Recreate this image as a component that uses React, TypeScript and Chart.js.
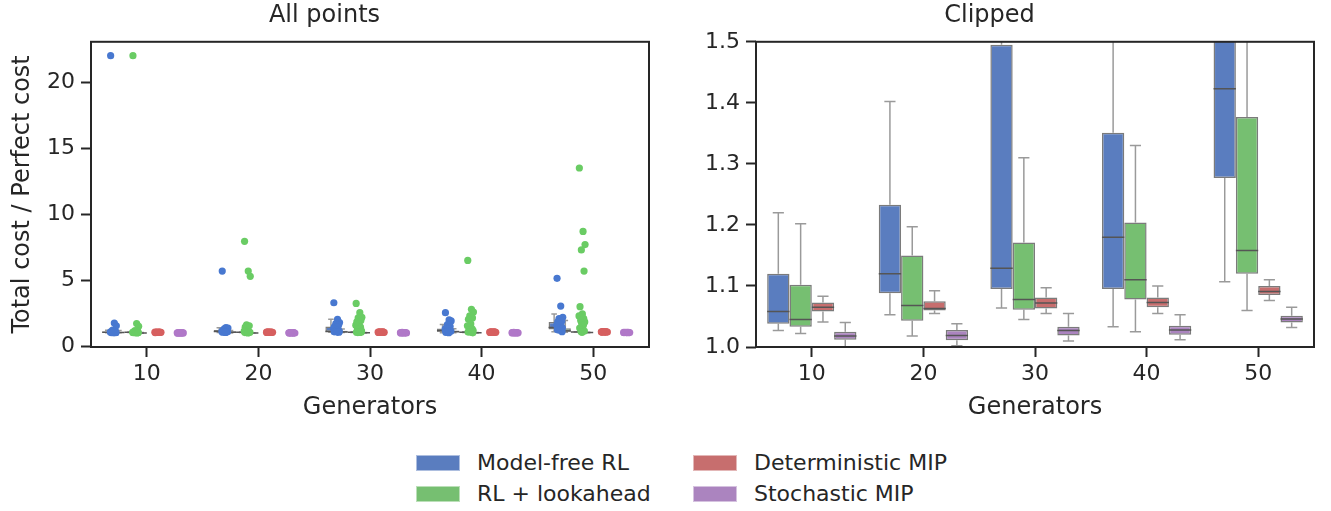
import React, { useEffect, useRef } from 'react';
import { Chart, registerables } from 'chart.js';

Chart.register(...registerables);

// ---------------- DATA ----------------
const CATEGORIES = ['10', '20', '30', '40', '50'];
const SERIES = ['Model-free RL', 'RL + lookahead', 'Deterministic MIP', 'Stochastic MIP'];

// Box statistics per category (whisker low, Q1, median, Q3, whisker high)
const MODEL_FREE_LOW = [1.027, 1.053, 1.064, 1.033, 1.107];
const MODEL_FREE_Q1 = [1.038, 1.088, 1.095, 1.095, 1.277];
const MODEL_FREE_MED = [1.058, 1.12, 1.129, 1.18, 1.423];
const MODEL_FREE_Q3 = [1.12, 1.233, 1.495, 1.351, 1.85];
const MODEL_FREE_HIGH = [1.22, 1.402, 2.05, 1.65, 2.45];

const LOOKAHEAD_LOW = [1.022, 1.018, 1.045, 1.025, 1.06];
const LOOKAHEAD_Q1 = [1.033, 1.043, 1.061, 1.078, 1.12];
const LOOKAHEAD_MED = [1.045, 1.068, 1.078, 1.11, 1.158];
const LOOKAHEAD_Q3 = [1.102, 1.15, 1.171, 1.204, 1.377];
const LOOKAHEAD_HIGH = [1.202, 1.197, 1.31, 1.33, 1.95];

const DET_MIP_LOW = [1.041, 1.055, 1.055, 1.055, 1.076];
const DET_MIP_Q1 = [1.058, 1.06, 1.063, 1.065, 1.085];
const DET_MIP_MED = [1.065, 1.063, 1.072, 1.073, 1.091];
const DET_MIP_Q3 = [1.073, 1.075, 1.081, 1.081, 1.1];
const DET_MIP_HIGH = [1.083, 1.092, 1.097, 1.1, 1.11];

const STOCH_MIP_LOW = [1.0, 1.002, 1.01, 1.012, 1.032];
const STOCH_MIP_Q1 = [1.012, 1.011, 1.019, 1.02, 1.04];
const STOCH_MIP_MED = [1.018, 1.019, 1.027, 1.028, 1.046];
const STOCH_MIP_Q3 = [1.025, 1.028, 1.033, 1.035, 1.051];
const STOCH_MIP_HIGH = [1.04, 1.038, 1.055, 1.053, 1.065];

// Individual observations (per category) shown in the "All points" panel
const MODEL_FREE_POINTS = [
  [22.0, 1.76, 1.55, 1.22, 1.16, 1.12, 1.1, 1.08, 1.07, 1.06, 1.05, 1.05, 1.04, 1.04, 1.03, 1.03, 1.035, 1.045],
  [5.7, 1.42, 1.38, 1.33, 1.23, 1.2, 1.15, 1.13, 1.12, 1.11, 1.1, 1.09, 1.09, 1.07, 1.05],
  [3.3, 2.05, 1.8, 1.72, 1.6, 1.5, 1.45, 1.35, 1.25, 1.15, 1.13, 1.12, 1.1, 1.095, 1.08, 1.065],
  [2.55, 2.0, 1.92, 1.65, 1.5, 1.4, 1.35, 1.28, 1.2, 1.18, 1.15, 1.1, 1.095, 1.06, 1.033],
  [5.15, 3.05, 2.2, 2.1, 1.9, 1.85, 1.7, 1.6, 1.5, 1.42, 1.38, 1.3, 1.28, 1.25, 1.2, 1.11],
];
const LOOKAHEAD_POINTS = [
  [22.0, 1.72, 1.52, 1.2, 1.15, 1.1, 1.08, 1.06, 1.05, 1.045, 1.04, 1.035, 1.033, 1.03, 1.025, 1.022],
  [7.95, 5.7, 5.3, 1.62, 1.55, 1.45, 1.197, 1.15, 1.1, 1.07, 1.068, 1.06, 1.045, 1.043, 1.018],
  [3.25, 2.55, 2.2, 2.15, 1.95, 1.85, 1.7, 1.6, 1.45, 1.31, 1.17, 1.1, 1.08, 1.075, 1.065, 1.061, 1.045],
  [6.5, 2.8, 2.6, 2.3, 2.15, 2.05, 1.7, 1.55, 1.33, 1.25, 1.2, 1.11, 1.1, 1.08, 1.078, 1.025],
  [13.5, 8.7, 7.7, 7.3, 5.7, 3.0, 2.45, 2.3, 2.1, 1.95, 1.85, 1.75, 1.6, 1.38, 1.25, 1.16, 1.12, 1.06],
];
const DET_MIP_POINTS = [
  [1.041, 1.05, 1.058, 1.06, 1.064, 1.066, 1.07, 1.073, 1.078, 1.083],
  [1.055, 1.058, 1.06, 1.062, 1.063, 1.066, 1.07, 1.075, 1.085, 1.092],
  [1.055, 1.06, 1.063, 1.068, 1.072, 1.075, 1.08, 1.082, 1.09, 1.097],
  [1.055, 1.06, 1.065, 1.07, 1.073, 1.076, 1.08, 1.083, 1.092, 1.1],
  [1.076, 1.08, 1.085, 1.088, 1.091, 1.094, 1.098, 1.1, 1.105, 1.11],
];
const STOCH_MIP_POINTS = [
  [1.0, 1.008, 1.012, 1.015, 1.018, 1.02, 1.023, 1.025, 1.032, 1.04],
  [1.002, 1.008, 1.011, 1.015, 1.019, 1.022, 1.025, 1.028, 1.033, 1.038],
  [1.01, 1.015, 1.019, 1.023, 1.027, 1.029, 1.031, 1.033, 1.045, 1.055],
  [1.012, 1.016, 1.02, 1.024, 1.028, 1.03, 1.032, 1.035, 1.045, 1.053],
  [1.032, 1.036, 1.04, 1.043, 1.046, 1.048, 1.05, 1.051, 1.058, 1.065],
];

const LEFT_Y_TICKS = [0, 5, 10, 15, 20];
const RIGHT_Y_TICKS = [1.0, 1.1, 1.2, 1.3, 1.4, 1.5];

// ---------------- STYLE ----------------
const FONT = "'DejaVu Sans', sans-serif";
const TEXT = '#262626';
const BOX_COLORS = ['#5a7dbf', '#76bf71', '#c76e6e', '#ab84bf'];
const POINT_COLORS = ['#4878d0', '#6acc64', '#d65f5f', '#b078c8'];
const BOX_EDGE = '#7b7b7b';
const WHISKER = '#9a9a9a';
const MEDIAN = '#555555';
// fixed strip-plot jitter pattern (fraction of max jitter)
const JITTER = [-0.8, 0.3, 0.9, -0.2, 0.6, -0.6, 0.1, -0.9, 0.5, -0.4, 0.8, -0.1, 0.4, -0.7, 0.2, 0.7, -0.3, 0.0, -0.5, 0.95];
const JITTER_WIDTH = 0.03;

const STATS = [
  { low: MODEL_FREE_LOW, q1: MODEL_FREE_Q1, med: MODEL_FREE_MED, q3: MODEL_FREE_Q3, high: MODEL_FREE_HIGH },
  { low: LOOKAHEAD_LOW, q1: LOOKAHEAD_Q1, med: LOOKAHEAD_MED, q3: LOOKAHEAD_Q3, high: LOOKAHEAD_HIGH },
  { low: DET_MIP_LOW, q1: DET_MIP_Q1, med: DET_MIP_MED, q3: DET_MIP_Q3, high: DET_MIP_HIGH },
  { low: STOCH_MIP_LOW, q1: STOCH_MIP_Q1, med: STOCH_MIP_MED, q3: STOCH_MIP_Q3, high: STOCH_MIP_HIGH },
];
const POINTS = [MODEL_FREE_POINTS, LOOKAHEAD_POINTS, DET_MIP_POINTS, STOCH_MIP_POINTS];

const CANVAS_W = 665;
const CANVAS_H = 430;

const clipArea = (chart: any) => {
  const a = chart.chartArea;
  chart.ctx.beginPath();
  chart.ctx.rect(a.left, a.top, a.right - a.left, a.bottom - a.top);
  chart.ctx.clip();
};

const boxPlugin = {
  id: 'boxWhiskers',
  beforeDatasetDraw(chart: any, args: any) {
    const ds = chart.data.datasets[args.index];
    if (!ds.boxStats) return;
    const y = chart.scales.y;
    const ctx = chart.ctx;
    ctx.save();
    clipArea(chart);
    ctx.strokeStyle = WHISKER;
    ctx.lineWidth = 1.5;
    args.meta.data.forEach((el: any, i: number) => {
      const { x, width } = el.getProps(['x', 'width'], true);
      const s = ds.boxStats;
      const yHigh = y.getPixelForValue(s.high[i]);
      const yQ3 = y.getPixelForValue(s.q3[i]);
      const yQ1 = y.getPixelForValue(s.q1[i]);
      const yLow = y.getPixelForValue(s.low[i]);
      const cap = width / 4;
      ctx.beginPath();
      ctx.moveTo(x, yQ3);
      ctx.lineTo(x, yHigh);
      ctx.moveTo(x, yQ1);
      ctx.lineTo(x, yLow);
      ctx.moveTo(x - cap, yHigh);
      ctx.lineTo(x + cap, yHigh);
      ctx.moveTo(x - cap, yLow);
      ctx.lineTo(x + cap, yLow);
      ctx.stroke();
    });
    ctx.restore();
  },
  afterDatasetDraw(chart: any, args: any) {
    const ds = chart.data.datasets[args.index];
    if (!ds.boxStats) return;
    const y = chart.scales.y;
    const ctx = chart.ctx;
    ctx.save();
    clipArea(chart);
    ctx.strokeStyle = MEDIAN;
    ctx.lineWidth = 1.5;
    args.meta.data.forEach((el: any, i: number) => {
      const { x, width } = el.getProps(['x', 'width'], true);
      const ym = y.getPixelForValue(ds.boxStats.med[i]);
      ctx.beginPath();
      ctx.moveTo(x - width / 2, ym);
      ctx.lineTo(x + width / 2, ym);
      ctx.stroke();
    });
    ctx.restore();
  },
};

const framePlugin = {
  id: 'frame',
  afterDatasetsDraw(chart: any) {
    const a = chart.chartArea;
    const ctx = chart.ctx;
    ctx.save();
    ctx.strokeStyle = TEXT;
    ctx.lineWidth = 2;
    ctx.strokeRect(a.left, a.top, a.right - a.left, a.bottom - a.top);
    ctx.restore();
  },
};

function buildConfig(kind: 'all' | 'clipped'): any {
  const isAll = kind === 'all';
  const datasets: any[] = SERIES.map((name, h) => ({
    type: 'bar',
    label: name,
    data: CATEGORIES.map((_, i) => [STATS[h].q1[i], STATS[h].q3[i]]),
    backgroundColor: BOX_COLORS[h],
    borderColor: BOX_EDGE,
    borderWidth: 1.5,
    borderSkipped: false,
    categoryPercentage: 0.8,
    barPercentage: 1.0,
    clip: 0,
    order: 1,
    boxStats: STATS[h],
  }));
  if (isAll) {
    SERIES.forEach((name, h) => {
      const pts: any[] = [];
      CATEGORIES.forEach((_, ci) => {
        POINTS[h][ci].forEach((v, k) => {
          pts.push({ x: ci + (h - 1.5) * 0.2 + JITTER[k % JITTER.length] * JITTER_WIDTH, y: v });
        });
      });
      datasets.push({
        type: 'scatter',
        label: name + ' points',
        data: pts,
        xAxisID: 'xs',
        yAxisID: 'y',
        backgroundColor: POINT_COLORS[h],
        borderWidth: 0,
        pointRadius: 3.6,
        showLine: false,
        order: 0,
      });
    });
  }
  const yTicks = isAll ? LEFT_Y_TICKS : RIGHT_Y_TICKS;
  return {
    type: 'bar',
    data: { labels: CATEGORIES, datasets },
    plugins: [boxPlugin, framePlugin],
    options: {
      animation: false,
      responsive: false,
      maintainAspectRatio: false,
      devicePixelRatio: 1,
      events: [],
      layout: { padding: { left: 0, right: 16, top: 0, bottom: 0 } },
      plugins: {
        legend: { display: false },
        tooltip: { enabled: false },
        title: {
          display: true,
          text: isAll ? 'All points' : 'Clipped',
          color: TEXT,
          font: { family: FONT, size: 24, weight: 'normal' },
          padding: { top: 1, bottom: 12 },
        },
      },
      scales: {
        x: {
          type: 'category',
          offset: true,
          grid: {
            display: true,
            drawOnChartArea: false,
            drawTicks: true,
            tickLength: 10,
            tickWidth: 2,
            color: TEXT,
            tickColor: TEXT,
            offset: false,
          },
          border: { display: false },
          ticks: { color: TEXT, font: { family: FONT, size: 22 }, padding: 4, maxRotation: 0 },
          title: {
            display: true,
            text: 'Generators',
            color: TEXT,
            font: { family: FONT, size: 24 },
            padding: { top: 0, bottom: 8 },
          },
          afterFit: (axis: any) => {
            axis.height = 83;
          },
        },
        xs: {
          type: 'linear',
          min: -0.5,
          max: 4.5,
          offset: false,
          grid: { offset: false },
          display: false,
        },
        y: {
          type: 'linear',
          min: isAll ? -0.05 : 1.0,
          max: isAll ? 23.05 : 1.5,
          grid: {
            display: true,
            drawOnChartArea: false,
            drawTicks: true,
            tickLength: 10,
            tickWidth: 2,
            color: TEXT,
            tickColor: TEXT,
          },
          border: { display: false },
          afterBuildTicks: (axis: any) => {
            axis.ticks = yTicks.map((v) => ({ value: v }));
          },
          ticks: {
            color: TEXT,
            font: { family: FONT, size: 22 },
            padding: 6,
            callback: (v: any) => (isAll ? String(v) : Number(v).toFixed(1)),
          },
          title: {
            display: isAll,
            text: 'Total cost / Perfect cost',
            color: TEXT,
            font: { family: FONT, size: 24 },
            padding: { top: 8, bottom: 0 },
          },
          afterFit: (axis: any) => {
            axis.width = 91;
          },
        },
      },
    },
  };
}

function Panel({ kind, left }: { kind: 'all' | 'clipped'; left: number }) {
  const ref = useRef<HTMLCanvasElement | null>(null);
  useEffect(() => {
    if (!ref.current) return;
    const chart = new Chart(ref.current, buildConfig(kind));
    return () => chart.destroy();
  }, [kind]);
  return (
    <div style={{ position: 'absolute', left, top: 0, width: CANVAS_W, height: CANVAS_H }}>
      <canvas ref={ref} width={CANVAS_W} height={CANVAS_H} style={{ width: CANVAS_W, height: CANVAS_H, display: 'block' }} />
    </div>
  );
}

function LegendItem({ label, color, x, y }: { label: string; color: string; x: number; y: number }) {
  return (
    <div style={{ position: 'absolute', left: x, top: y, height: 24, display: 'flex', alignItems: 'center' }}>
      <div style={{ width: 44, height: 16, background: color, boxSizing: 'border-box', border: '1px solid rgba(255,255,255,0.5)' }} />
      <span style={{ marginLeft: 17, fontFamily: FONT, fontSize: 22, color: TEXT, whiteSpace: 'nowrap', lineHeight: '24px' }}>{label}</span>
    </div>
  );
}

export default function App() {
  const legendPos = [
    { x: 416, y: 451 },
    { x: 416, y: 482 },
    { x: 693, y: 451 },
    { x: 693, y: 482 },
  ];
  return (
    <div style={{ position: 'absolute', left: 0, top: 0, width: 1331, height: 511, background: '#fff', overflow: 'hidden' }}>
      <Panel kind="all" left={0} />
      <Panel kind="clipped" left={665} />
      {SERIES.map((s, i) => (
        <LegendItem key={s} label={s} color={BOX_COLORS[i]} x={legendPos[i].x} y={legendPos[i].y} />
      ))}
    </div>
  );
}
